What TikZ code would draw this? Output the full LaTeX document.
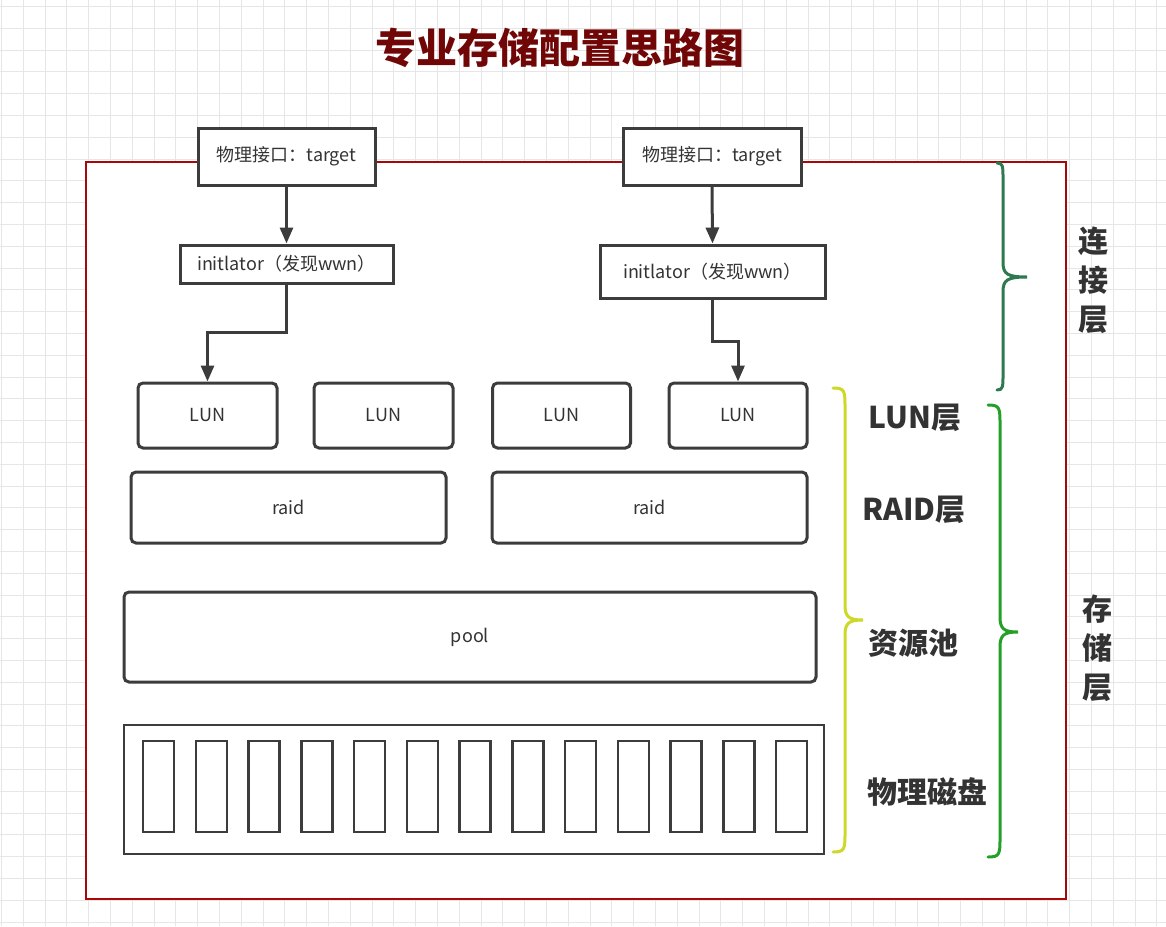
\documentclass[tikz,border=0pt]{standalone}
\usepackage{fontspec}
\setmainfont{Noto Sans CJK SC}
\usetikzlibrary{arrows.meta}
\definecolor{framered}{RGB}{168,8,8}
\definecolor{titlered}{RGB}{112,6,6}
\definecolor{ink}{RGB}{51,51,51}
\definecolor{boxline}{RGB}{60,60,60}
\definecolor{gridc}{RGB}{230,230,230}
\definecolor{bracedark}{RGB}{46,122,78}
\definecolor{bracegreen}{RGB}{36,160,40}
\definecolor{braceyellow}{RGB}{206,216,40}
\newcommand{\layerbrace}[8]{%
  \draw[#1,line width=3pt,line cap=round]
    (#2,#5) .. controls ({#3},#5) and ({#3},{#5+3}) .. ({#3},{#5+#8})
    -- ({#3},{#6-15}) .. controls ({#3},{#6-3}) and ({#3+4},#6) .. (#4,#6)
    .. controls ({#3+4},#6) and ({#3},{#6+3}) .. ({#3},{#6+15})
    -- ({#3},{#7-#8}) .. controls ({#3},{#7-3}) and ({#3},#7) .. (#2,#7);}
\begin{document}
\begin{tikzpicture}[x=1pt,y=-1pt,
  sqbox/.style={draw=boxline,line width=3pt,fill=white,inner sep=0pt,text=ink,
    font=\fontsize{18}{21}\selectfont},
  rbox/.style={sqbox,rounded corners=5pt},
  disk/.style={draw=boxline,line width=2.5pt,fill=white,inner sep=0pt,
    minimum width=31pt,minimum height=91pt},
  conn/.style={draw=boxline,line width=3pt,-{Triangle[width=13pt,length=16pt]}},
  layer/.style={text=ink,font=\fontsize{30}{39}\selectfont\bfseries,align=center,inner sep=0pt}]
% background and grid
\fill[white] (0,0) rectangle (1166,926);
\useasboundingbox (0,0) rectangle (1166,926);
\foreach \i in {0,...,53} \draw[gridc,line width=1pt] ({1.5+21.8*\i},0) -- ({1.5+21.8*\i},926);
\foreach \j in {0,...,42} \draw[gridc,line width=1pt] (0,{6.5+21.8*\j}) -- (1166,{6.5+21.8*\j});
% outer frame
\node[draw=framered,line width=2.5pt,fill=white,inner sep=0pt,minimum width=980pt,minimum height=737pt] (frame) at (576,530.5) {};
% title
\node[text=titlered,font=\fontsize{41}{48}\selectfont\bfseries] (title) at (560,48) {专业存储配置思路图};
% connection layer
\node[sqbox,minimum width=177pt,minimum height=57pt] (t1) at (286.5,156.5) {物理接口：target};
\node[sqbox,minimum width=178pt,minimum height=57pt] (t2) at (712,156.5) {物理接口：target};
\node[sqbox,minimum width=213pt,minimum height=38pt] (i1) at (286.5,264) {initlator（发现wwn）};
\node[sqbox,minimum width=225pt,minimum height=53pt] (i2) at (712.5,271.5) {initlator（发现wwn）};
% LUNs
\node[rbox,minimum width=139pt,minimum height=65pt] (l1) at (207.5,415.5) {LUN};
\node[rbox,minimum width=139pt,minimum height=65pt] (l2) at (383.5,415.5) {LUN};
\node[rbox,minimum width=138pt,minimum height=65pt] (l3) at (561.5,415.5) {LUN};
\node[rbox,minimum width=138pt,minimum height=65pt] (l4) at (738,415.5) {LUN};
% raid and pool
\node[rbox,minimum width=315pt,minimum height=71pt] (r1) at (288.5,507.5) {raid};
\node[rbox,minimum width=315pt,minimum height=71pt] (r2) at (649.5,507.5) {raid};
\node[rbox,minimum width=692pt,minimum height=90pt] (pool) at (470,637) {pool};
% disks
\node[draw=boxline,line width=2.5pt,fill=white,inner sep=0pt,minimum width=700pt,minimum height=129pt] (disks) at (474,789.5) {};
\foreach \k in {0,...,12} \node[disk] (d\k) at ({158.5+52.75*\k},786.5) {};
% connectors
\draw[conn] (t1.south) -- (i1.north);
\draw[conn] (t2.south) -- (i2.north);
\draw[conn] (i1.south) |- (l1.north |- 0,332) -- (l1.north);
\draw[conn] (i2.south) |- (l4.north |- 0,341) -- (l4.north);
% braces
\layerbrace{bracedark}{997}{1003}{1027}{163}{277}{390}{16}
\layerbrace{braceyellow}{833}{845}{863}{388}{620}{852}{20}
\layerbrace{bracegreen}{988}{1000}{1018}{405}{632}{857}{20}
% layer labels
\node[layer] (lunl) at (915,418) {LUN层};
\node[layer] (raidl) at (914,510) {RAID层};
\node[layer] (pooll) at (913,643) {资源池};
\node[layer] (diskl) at (927,792) {物理磁盘};
\node[layer] (connl) at (1093,280) {连\\接\\层};
\node[layer] (storl) at (1097,648) {存\\储\\层};
\end{tikzpicture}
\end{document}
